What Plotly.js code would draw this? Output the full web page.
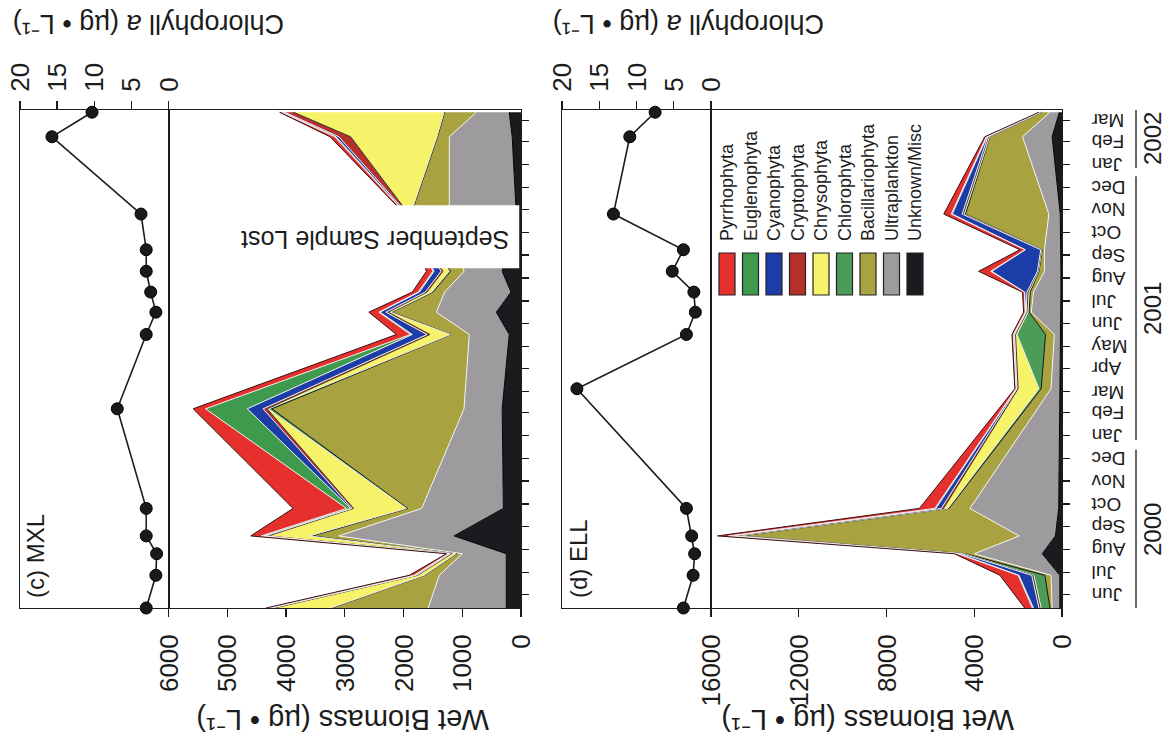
<!DOCTYPE html>
<html>
<head>
<meta charset="utf-8">
<script src="https://cdn.plot.ly/plotly-3.0.1.min.js"></script>
<style>
html, body { margin:0; padding:0; background:#fff; overflow:hidden; width:1174px; height:744px; }
#chart { position:absolute; left:0; top:0; width:744px; height:1174px; transform-origin:0 0; }
</style>
</head>
<body>
<div id="chart"></div>
<script>
// ---------- data ----------
const monthTicks = ['2000-06-15','2000-07-15','2000-08-15','2000-09-15','2000-10-15','2000-11-15','2000-12-15',
  '2001-01-15','2001-02-15','2001-03-15','2001-04-15','2001-05-15','2001-06-15','2001-07-15','2001-08-15',
  '2001-09-15','2001-10-15','2001-11-15','2001-12-15','2002-01-15','2002-02-15','2002-03-15'];
const monthLabels = ['Jun','Jul','Aug','Sep','Oct','Nov','Dec','Jan','Feb','Mar','Apr','May','Jun','Jul','Aug',
  'Sep','Oct','Nov','Dec','Jan','Feb','Mar'];
const yearLabels = ['2000','2001','2002'];
const yearCenters = ['2000-09-11','2001-07-05','2002-02-18'];
const yearStarts = ['2000-05-28','2001-01-09','2002-01-10'];
const yearEnds = ['2000-12-27','2001-12-30','2002-03-29'];
const timeRange = ['2000-05-28','2002-03-29'];

const groups = ['Unknown/Misc','Ultraplankton','Bacillariophyta','Chlorophyta','Chrysophyta',
  'Cryptophyta','Cyanophyta','Euglenophyta','Pyrrhophyta'];

// MXL (panel c) -- September 2001 biomass sample lost
const cDates = ['2000-05-28','2000-07-11','2000-08-09','2000-09-02','2000-10-09','2001-02-20','2001-05-31',
  '2001-06-30','2001-07-27','2001-08-24','2001-09-22','2001-11-09','2002-02-21','2002-03-26'];
const cUnknown  = [250, 250, 250, 1140, 300, 320, 200, 420, 170, 320, null, 80, 150, 200];
const cUltra    = [1330, 1140, 750, 1960, 1390, 650, 680, 1020, 1130, 650, null, 1140, 1070, 560];
const cBacill   = [1640, 250, 100, 450, 240, 3270, 310, 760, 200, 230, null, 650, 200, 540];
const cChloro   = [20, 10, 10, 50, 20, 60, 10, 20, 20, 20, null, 10, 10, 10];
const cChryso   = [960, 110, 70, 700, 900, 20, 350, 40, 80, 110, null, 30, 1470, 2560];
const cCrypto   = [40, 20, 20, 50, 30, 70, 50, 40, 30, 30, null, 20, 200, 150];
const cCyano    = [30, 20, 20, 30, 20, 270, 250, 100, 100, 120, null, 20, 50, 30];
const cEugleno  = [30, 20, 20, 40, 70, 710, 30, 20, 20, 20, null, 10, 20, 20];
const cPyrrho   = [40, 80, 30, 180, 910, 210, 240, 170, 100, 110, null, 20, 80, 40];
const cChl      = [3.0, 1.7, 1.6, 3.0, 3.0, 6.9, 3.0, 1.7, 2.4, 3.0, 3.0, 3.7, 15.7, 10.3];

// ELL (panel d)
const dDates = ['2000-05-28','2000-07-11','2000-08-09','2000-09-02','2000-10-09','2001-03-19','2001-05-31',
  '2001-06-30','2001-07-27','2001-08-24','2001-09-22','2001-11-09','2002-02-21','2002-03-26'];
const dUnknown  = [100, 100, 900, 300, 150, 80, 50, 50, 50, 50, 50, 80, 450, 120];
const dUltra    = [350, 400, 3100, 1650, 4050, 420, 300, 1350, 1250, 750, 750, 520, 1350, 430];
const dBacill   = [100, 280, 400, 12650, 950, 450, 400, 100, 150, 250, 100, 3800, 1480, 370];
const dChloro   = [400, 500, 50, 100, 50, 100, 1300, 50, 50, 20, 20, 50, 20, 10];
const dChryso   = [50, 50, 50, 200, 200, 950, 70, 50, 50, 30, 30, 50, 50, 20];
const dCrypto   = [50, 50, 50, 100, 100, 50, 40, 30, 50, 20, 20, 50, 30, 20];
const dCyano    = [250, 580, 150, 100, 250, 30, 40, 30, 100, 2080, 700, 450, 40, 30];
const dEugleno  = [50, 40, 50, 100, 50, 20, 20, 20, 20, 50, 20, 50, 30, 20];
const dPyrrho   = [350, 830, 150, 500, 700, 50, 60, 70, 80, 550, 230, 340, 70, 30];
const dChl      = [3.7, 2.4, 2.2, 2.6, 3.3, 18.0, 3.3, 2.1, 2.3, 5.2, 3.7, 13.1, 10.9, 7.5];

const bioTicksC = [0, 1000, 2000, 3000, 4000, 5000, 6000];
const bioTicksD = [0, 4000, 8000, 12000, 16000];
const chlTicks = [0, 5, 10, 15, 20];

// ---------- styles ----------
const fillColors = ['#1b1b1f','#9d9b9e','#a8a340','#4c9b56','#f6f36b','#b5302a','#1c3ca8','#3e9a4c','#e6302d'];
const lineColors = ['#000000','#f2f2f2','#141414','#e6e6e6','#3a3a3a','#eeeeee','#eeeeee','#eeeeee','#3a1010'];
const FONT = '"Liberation Sans", Arial, Helvetica, sans-serif';
const INK = '#1c1c1c';

const cSeries = [cUnknown,cUltra,cBacill,cChloro,cChryso,cCrypto,cCyano,cEugleno,cPyrrho];
const dSeries = [dUnknown,dUltra,dBacill,dChloro,dChryso,dCrypto,dCyano,dEugleno,dPyrrho];

const traces = [];
groups.forEach((g, i) => {
  traces.push({type:'scatter', mode:'lines', name:g, x:cDates, y:cSeries[i], xaxis:'x3', yaxis:'y3',
    stackgroup:'c', stackgaps:'interpolate', fillcolor:fillColors[i],
    line:{color:lineColors[i], width:1}, showlegend:false, hoverinfo:'skip'});
});
groups.forEach((g, i) => {
  traces.push({type:'scatter', mode:'lines', name:g, x:dDates, y:dSeries[i], xaxis:'x', yaxis:'y',
    stackgroup:'d', fillcolor:fillColors[i],
    line:{color:lineColors[i], width:1}, showlegend:false, hoverinfo:'skip'});
});
const chlStyle = {mode:'lines+markers', line:{color:INK, width:1.6},
  marker:{symbol:'circle', size:12, color:'#1a1a1a', line:{color:'#000', width:1}},
  cliponaxis:false, showlegend:false, hoverinfo:'skip'};
traces.push(Object.assign({type:'scatter', name:'Chl a MXL', x:cDates, y:cChl, xaxis:'x4', yaxis:'y4'}, chlStyle));
traces.push(Object.assign({type:'scatter', name:'Chl a ELL', x:dDates, y:dChl, xaxis:'x2', yaxis:'y2'}, chlStyle));

// ---------- layout (drawn upright, then turned to match the page) ----------
const L = 136, W = 498, T = 20, H = 1042;
const px = X => (X - L) / W;
const py = Y => (T + H - Y) / H;

const box = {showline:true, linecolor:INK, linewidth:1, mirror:true, showgrid:false, zeroline:false,
  tickcolor:INK, tickwidth:1.3};
const bioAxis = Object.assign({}, box, {ticks:'outside', ticklen:8, tickfont:{size:26}, tickformat:'d',
  ticklabelstandoff:12, tickmode:'array'});
const chlAxis = Object.assign({}, box, {ticks:'outside', ticklen:8, tickfont:{size:26}, side:'right',
  ticklabelstandoff:4, tickmode:'array', tickvals:chlTicks, range:[0,20]});
const timeBase = Object.assign({}, box, {type:'date', range:timeRange, domain:[0,1]});

const shapes = [];
const annotations = [];

// year brackets
yearLabels.forEach((y, i) => {
  shapes.push({type:'line', xref:'x', yref:'paper', x0:yearStarts[i], x1:yearEnds[i], y0:py(1136), y1:py(1136),
    line:{color:'#333', width:1.5}});
  annotations.push({text:y, xref:'x', yref:'paper', x:yearCenters[i], y:py(1152), showarrow:false,
    xanchor:'center', yanchor:'middle', font:{size:24, color:INK}});
});

// lost-sample mask
shapes.push({type:'rect', xref:'x3', yref:'y3 domain', x0:'2001-08-28', x1:'2001-11-21', y0:0.005, y1:0.995,
  fillcolor:'#ffffff', line:{width:0}, layer:'above'});
annotations.push({text:'September Sample Lost', xref:'x3', yref:'y3', x:'2001-10-05', y:2480, textangle:-90,
  showarrow:false, xanchor:'center', yanchor:'middle', font:{size:25, color:INK}});

// axis titles
const bioTitle = 'Wet Biomass (µg • L\u207B\u00B9)';
const chlTitle = 'Chlorophyll <i>a</i> (µg • L\u207B\u00B9)';
annotations.push({text:bioTitle, xref:'paper', yref:'paper', x:px(24), y:py(343), textangle:-90, showarrow:false,
  xanchor:'center', yanchor:'middle', font:{size:29, color:INK}});
annotations.push({text:bioTitle, xref:'paper', yref:'paper', x:px(24), y:py(868), textangle:-90, showarrow:false,
  xanchor:'center', yanchor:'middle', font:{size:29, color:INK}});
annotations.push({text:chlTitle, xref:'paper', yref:'paper', x:px(720), y:py(149), textangle:-90, showarrow:false,
  xanchor:'center', yanchor:'middle', font:{size:27, color:INK}});
annotations.push({text:chlTitle, xref:'paper', yref:'paper', x:px(720), y:py(689), textangle:-90, showarrow:false,
  xanchor:'center', yanchor:'middle', font:{size:27, color:INK}});

// panel labels
annotations.push({text:'(c) MXL', xref:'paper', yref:'paper', x:px(144), y:py(36), showarrow:false,
  xanchor:'left', yanchor:'middle', font:{size:24, color:INK}});
annotations.push({text:'(d) ELL', xref:'paper', yref:'paper', x:px(144), y:py(578), showarrow:false,
  xanchor:'left', yanchor:'middle', font:{size:24, color:INK}});

// legend (boxes + names), top row = top of stack
const legendOrder = groups.map((g, i) => i).reverse();
legendOrder.forEach((gi, row) => {
  const Y = 727 + 23.5 * row;
  shapes.push({type:'rect', xref:'paper', yref:'paper', x0:px(449), x1:px(491), y0:py(Y + 8), y1:py(Y - 8),
    fillcolor:fillColors[gi], line:{color:'#222', width:1.2}, layer:'above'});
  annotations.push({text:groups[gi], xref:'paper', yref:'paper', x:px(501), y:py(Y), showarrow:false,
    xanchor:'left', yanchor:'middle', font:{size:18, color:INK}});
});

const layout = {
  width:744, height:1174,
  margin:{l:L, r:744 - L - W, t:T, b:1174 - T - H},
  paper_bgcolor:'#ffffff', plot_bgcolor:'#ffffff',
  font:{family:FONT, color:INK},
  showlegend:false,
  xaxis: Object.assign({}, timeBase, {anchor:'y', tickmode:'array', tickvals:monthTicks, ticktext:monthLabels,
    tickangle:-90, ticks:'outside', ticklen:7, tickfont:{size:19}, ticklabelstandoff:14}),
  xaxis2: Object.assign({}, timeBase, {anchor:'y2', matches:'x', showticklabels:false, ticks:''}),
  xaxis3: Object.assign({}, timeBase, {anchor:'y3', matches:'x', tickmode:'array', tickvals:monthTicks,
    showticklabels:false, ticks:'outside', ticklen:7}),
  xaxis4: Object.assign({}, timeBase, {anchor:'y4', matches:'x', showticklabels:false, ticks:''}),
  yaxis: Object.assign({}, bioAxis, {anchor:'x', domain:[0, py(711)], range:[0,16000], tickvals:bioTicksD}),
  yaxis2: Object.assign({}, chlAxis, {anchor:'x2', domain:[py(711), py(562)]}),
  yaxis3: Object.assign({}, bioAxis, {anchor:'x3', domain:[py(521), py(168.5)], range:[0,6000], tickvals:bioTicksC}),
  yaxis4: Object.assign({}, chlAxis, {anchor:'x4', domain:[py(168.5), 1]}),
  shapes:shapes,
  annotations:annotations
};

const el = document.getElementById('chart');
Plotly.newPlot(el, traces, layout, {displayModeBar:false, staticPlot:true, responsive:false}).then(() => {
  // drop empty placeholder text nodes Plotly leaves behind
  el.querySelectorAll('text').forEach(t => {
    if (!t.textContent.replace(/[\s\u200b]/g, '')) t.remove();
  });
  el.style.transform = 'translateY(744px) rotate(-90deg)';
});
</script>
</body>
</html>
